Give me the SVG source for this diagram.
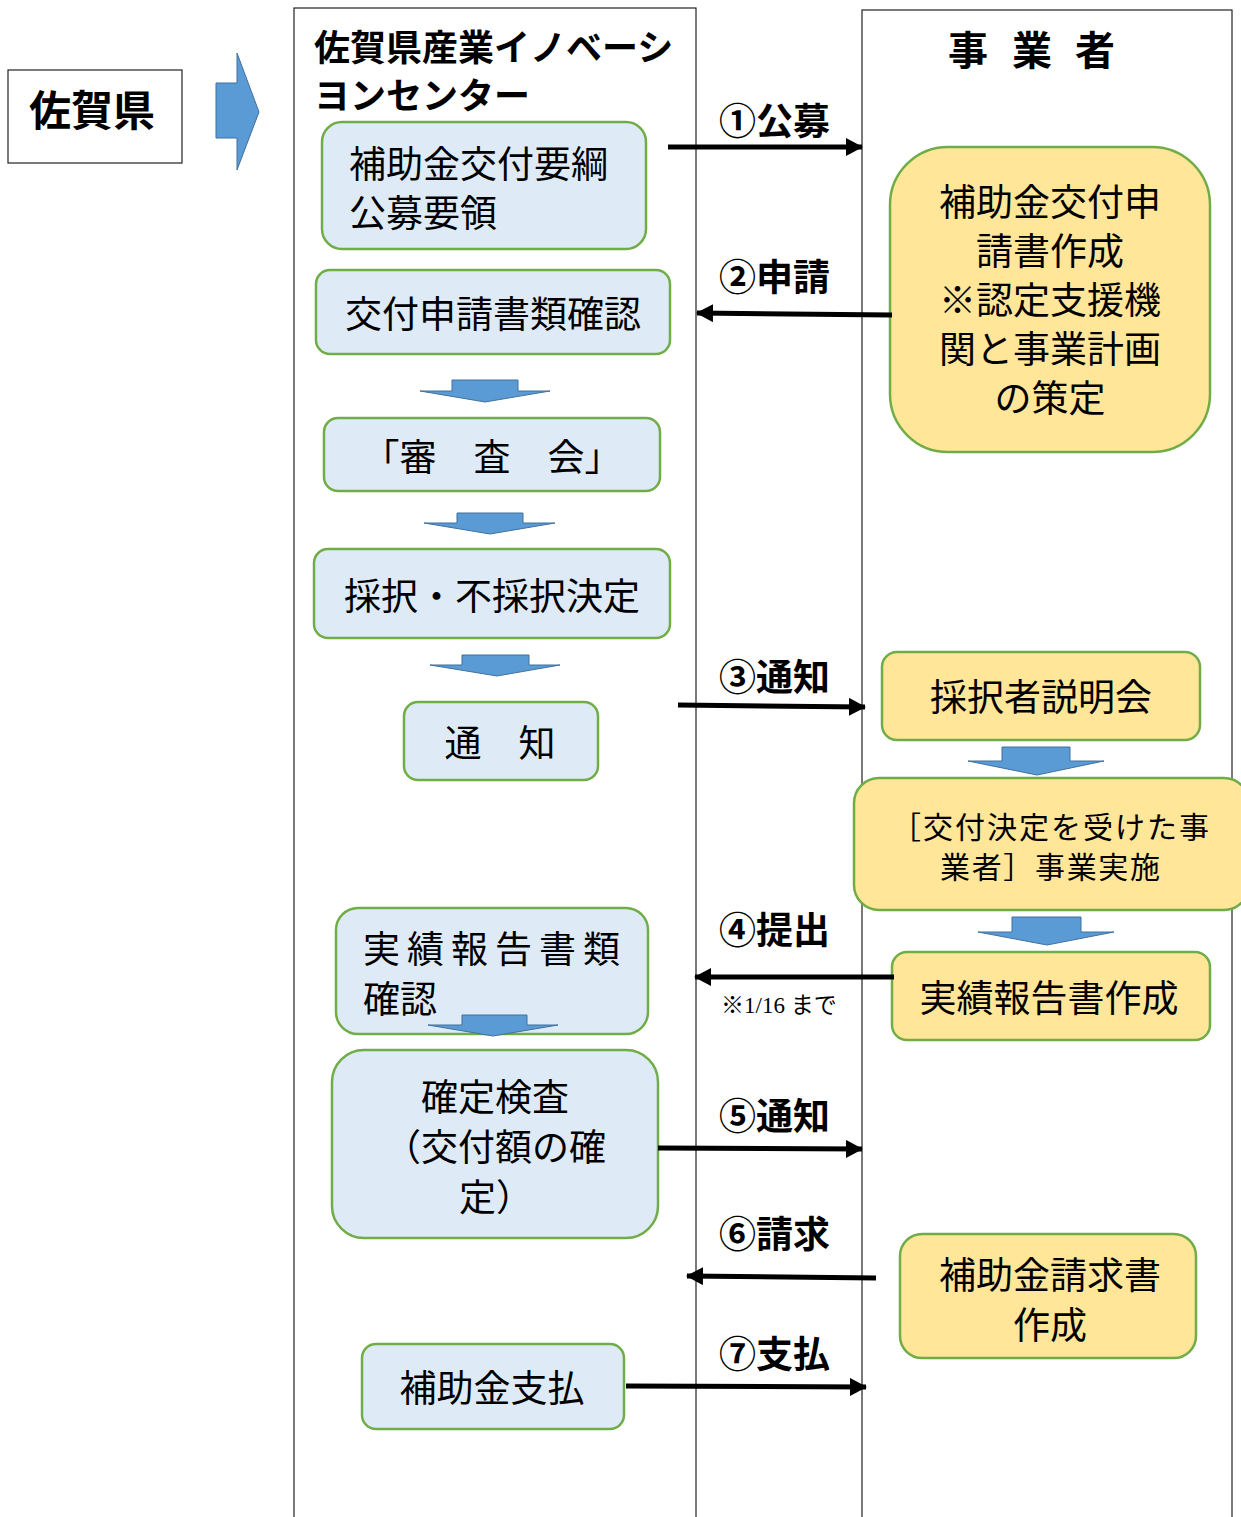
<svg xmlns="http://www.w3.org/2000/svg" width="1241" height="1517" viewBox="0 0 1241 1517">
<style>
.col{fill:none;stroke:#222;stroke-width:1.2}
.bx{fill:#DEEBF7;stroke:#70AD47;stroke-width:2.5}
.yb{fill:#FFE699;stroke:#70AD47;stroke-width:2.5}
.ar{fill:#5B9BD5;stroke:#41719C;stroke-width:1}
.t{font-family:"Noto Sans CJK JP",sans-serif;font-size:37px;fill:#000;dominant-baseline:central}
.c{text-anchor:middle}
.b{font-weight:700}
.cn{stroke:#000;stroke-width:5;fill:none;marker-end:url(#ah)}
.note{font-family:"Liberation Serif","Noto Sans CJK JP",serif;font-size:23px;dominant-baseline:central}
</style>
<defs>
<marker id="ah" markerUnits="userSpaceOnUse" markerWidth="17" markerHeight="18" refX="16" refY="9" orient="auto">
<path d="M0,0 L17,9 L0,18 z" fill="#000"/>
</marker>
</defs>
<rect width="1241" height="1517" fill="#fff"/>

<g id="lanes">
<rect class="col" x="294" y="8" width="402" height="1530"/>
<rect class="col" x="862" y="10" width="370" height="1530"/>
<text class="t b" style="font-size:36px" x="314" y="45">佐賀県産業イノベーシ</text>
<text class="t b" style="font-size:36px" x="314" y="93">ヨンセンター</text>
<text class="t b" style="font-size:40px" x="948 1012 1075" y="48">事業者</text>
</g>

<g id="saga">
<rect x="8" y="70" width="174" height="93" fill="#fff" stroke="#222" stroke-width="1.2"/>
<text class="t b c" style="font-size:42px" x="92" y="107">佐賀県</text>
</g>
<g id="bigarrow">
<polygon class="ar" points="216,83 237,83 237,53 259,112 237,170 237,138 216,138"/>
</g>

<g id="n1"><rect class="bx" x="322" y="122" width="324" height="127" rx="20"/>
<text class="t" x="349" y="162">補助金交付要綱</text><text class="t" x="349" y="211">公募要領</text></g>
<g id="n2"><rect class="bx" x="316" y="270" width="354" height="84" rx="14"/>
<text class="t c" x="493" y="312">交付申請書類確認</text></g>
<g id="d1"><polygon class="ar" points="452,380 518,380 518,391 550,391 485,402 420,391 452,391"/></g>
<g id="n3"><rect class="bx" x="324" y="418" width="336" height="73" rx="14"/>
<text class="t c" x="492" y="455">「審　査　会」</text></g>
<g id="d2"><polygon class="ar" points="457,513 523,513 523,523 555,523 490,534 424,523 457,523"/></g>
<g id="n4"><rect class="bx" x="314" y="549" width="356" height="89" rx="14"/>
<text class="t c" x="492" y="594">採択・不採択決定</text></g>
<g id="d3"><polygon class="ar" points="462,655 529,655 529,665 560,665 497,676 430,665 462,665"/></g>
<g id="n5"><rect class="bx" x="404" y="702" width="194" height="78" rx="14"/>
<text class="t c" x="500" y="741">通　知</text></g>
<g id="n6"><rect class="bx" x="336" y="908" width="312" height="126" rx="22"/>
<text class="t" x="363" y="947" letter-spacing="7">実績報告書類</text>
<text class="t" x="363" y="997">確認</text>
<polygon class="ar" points="462,1015 527,1015 527,1025 558,1025 493,1036 428,1025 462,1025"/></g>
<g id="n7"><rect class="bx" x="332" y="1050" width="326" height="188" rx="32"/>
<text class="t" x="421" y="1095">確定検査</text>
<text class="t" x="384" y="1145">（交付額の確</text>
<text class="t" x="459" y="1195">定）</text></g>
<g id="n8"><rect class="bx" x="362" y="1344" width="262" height="85" rx="14"/>
<text class="t c" x="492" y="1386">補助金支払</text></g>

<g id="r1"><rect class="yb" x="890" y="147" width="320" height="305" rx="58"/>
<text class="t c" x="1050" y="200">補助金交付申</text>
<text class="t c" x="1050" y="249">請書作成</text>
<text class="t c" x="1050" y="298">※認定支援機</text>
<text class="t c" x="1050" y="347">関と事業計画</text>
<text class="t c" x="1050" y="396">の策定</text></g>
<g id="r2"><rect class="yb" x="882" y="652" width="318" height="88" rx="15"/>
<text class="t c" x="1041" y="695">採択者説明会</text></g>
<g id="u1"><polygon class="ar" points="1002,747 1070,747 1070,761 1104,761 1037,775 968,761 1002,761"/></g>
<g id="r3"><rect class="yb" x="854" y="778" width="395" height="132" rx="25"/>
<text class="t" style="font-size:30px" x="891" y="825" textLength="318" lengthAdjust="spacing">［交付決定を受けた事</text>
<text class="t" style="font-size:30px" x="940" y="865" textLength="220" lengthAdjust="spacing">業者］事業実施</text></g>
<g id="u2"><polygon class="ar" points="1012,917 1081,917 1081,932 1114,932 1047,945 978,932 1012,932"/></g>
<g id="r4"><rect class="yb" x="892" y="952" width="318" height="88" rx="15"/>
<text class="t c" x="1049" y="996">実績報告書作成</text></g>
<g id="r5"><rect class="yb" x="900" y="1234" width="296" height="124" rx="22"/>
<text class="t c" x="1050" y="1273">補助金請求書</text>
<text class="t c" x="1050" y="1323">作成</text></g>

<g id="connectors">
<line class="cn" x1="668" y1="147" x2="862" y2="147"/>
<line class="cn" x1="892" y1="315" x2="697" y2="313"/>
<line class="cn" x1="678" y1="705" x2="865" y2="707"/>
<line class="cn" x1="894" y1="977" x2="695" y2="977"/>
<line class="cn" x1="658" y1="1148" x2="862" y2="1149"/>
<line class="cn" x1="876" y1="1278" x2="687" y2="1276"/>
<line class="cn" x1="626" y1="1386" x2="866" y2="1387"/>
<text class="t b" x="719" y="119">①公募</text>
<text class="t b" x="719" y="275">②申請</text>
<text class="t b" x="719" y="675">③通知</text>
<text class="t b" x="719" y="928">④提出</text>
<text class="note" x="721" y="1005">※1/16 まで</text>
<text class="t b" x="719" y="1114">⑤通知</text>
<text class="t b" x="719" y="1232">⑥請求</text>
<text class="t b" x="719" y="1352">⑦支払</text>
</g>
</svg>
